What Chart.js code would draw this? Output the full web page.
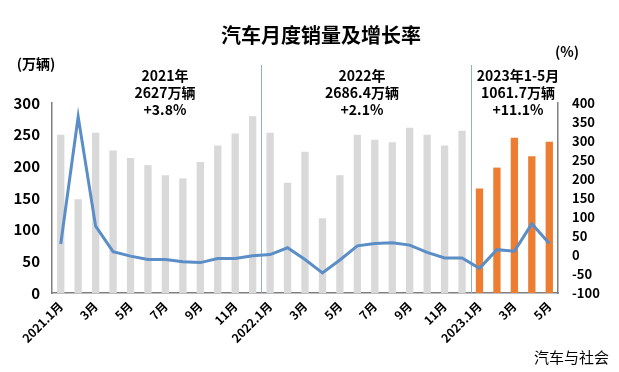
<!DOCTYPE html>
<html><head><meta charset="utf-8">
<script src="https://cdn.jsdelivr.net/npm/chart.js@4.4.0/dist/chart.umd.min.js"></script>
<style>html,body{margin:0;padding:0;background:#fff}#wrap{width:619px;height:372px}</style>
</head><body><div id="wrap"><canvas id="c" width="619" height="372"></canvas></div>
<script>
const categories = ["2021.1月","2月","3月","4月","5月","6月","7月","8月","9月","10月","11月","12月",
  "2022.1月","2月","3月","4月","5月","6月","7月","8月","9月","10月","11月","12月",
  "2023.1月","2月","3月","4月","5月"];
const sales = [250,148,253,225,213,202,186,181,207,233,252,279,
  253,174,223,118,186,250,242,238,261,250,233,256,
  165,198,245,216,239];
const growth = [29,364,76,9,-3,-12,-12,-18,-20,-9,-9,-2,
  1,19,-12,-47,-13,24,30,32,26,7,-8,-8,
  -35,14,10,82,30];
const leftTicks = [0,50,100,150,200,250,300];
const rightTicks = [-100,-50,0,50,100,150,200,250,300,350,400];
const periodNotes = [
  {lines:["2021年","2627万辆","+3.8%"], x:165},
  {lines:["2022年","2686.4万辆","+2.1%"], x:362},
  {lines:["2023年1-5月","1061.7万辆","+11.1%"], x:518}
];
const FONT = '"Noto Sans CJK SC", "Noto Sans", sans-serif';
const barColors = categories.map((c,i)=> i>=24 ? '#ed7d31' : '#d9d9d9');

const overlay = {
  id:'overlay',
  beforeDatasetsDraw(chart){
    const ctx = chart.ctx, x = chart.scales.x, a = chart.chartArea;
    ctx.save();
    ctx.strokeStyle = '#8fb0cf'; ctx.lineWidth = 1;
    [11,23].forEach(i=>{
      const px = Math.round((x.getPixelForValue(i)+x.getPixelForValue(i+1))/2)+0.5;
      ctx.beginPath(); ctx.moveTo(px,65); ctx.lineTo(px,a.bottom); ctx.stroke();
    });
    ctx.restore();
  },
  afterDraw(chart){
    const ctx = chart.ctx;
    ctx.save();
    ctx.fillStyle = '#000';
    ctx.textAlign = 'center'; ctx.textBaseline = 'middle';
    ctx.font = 'bold 20px ' + FONT;
    ctx.fillText('汽车月度销量及增长率', 321, 35);
    ctx.font = 'bold 14px ' + FONT;
    ctx.fillText('(万辆)', 36, 64);
    ctx.fillText('(%)', 567, 52);
    ctx.font = 'bold 14px ' + FONT;
    periodNotes.forEach(n=>{
      n.lines.forEach((t,k)=> ctx.fillText(t, n.x, 76 + k*17));
    });
    ctx.font = '15px ' + FONT;
    ctx.textAlign = 'right';
    ctx.fillText('汽车与社会', 609, 357);
    ctx.restore();
  }
};

new Chart(document.getElementById('c'), {
  data:{
    labels: categories,
    datasets:[
      {type:'line', data:growth, yAxisID:'y2', borderColor:'#5b8ec6', borderWidth:3,
       pointRadius:0, tension:0, order:0},
      {type:'bar', data:sales, yAxisID:'y', backgroundColor:barColors,
       barPercentage:0.42, categoryPercentage:1, order:1}
    ]
  },
  options:{
    responsive:false, animation:false,
    layout:{padding:{top:103,left:0,right:0,bottom:0}},
    plugins:{legend:{display:false}, tooltip:{enabled:false}, title:{display:false}},
    scales:{
      x:{
        grid:{display:false, drawTicks:false},
        border:{color:'#7f7f7f', width:1.5},
        ticks:{autoSkip:false, maxRotation:45, minRotation:45, padding:6, color:'#000',
          font:{family:FONT, size:12, weight:'bold'},
          callback:function(v,i){ return i%2===0 ? categories[i] : ''; }},
        afterFit(s){ s.height = 79; }
      },
      y:{
        position:'left', min:0, max:300,
        grid:{display:false, drawTicks:false},
        border:{color:'#7f7f7f', width:1.5},
        afterBuildTicks(s){ s.ticks = leftTicks.map(v=>({value:v})); },
        ticks:{padding:12, color:'#000', font:{family:FONT, size:15, weight:'bold'}},
        afterFit(s){ s.width = 52; }
      },
      y2:{
        position:'right', min:-100, max:400,
        grid:{display:false, drawTicks:false},
        border:{color:'#7f7f7f', width:1.5},
        afterBuildTicks(s){ s.ticks = rightTicks.map(v=>({value:v})); },
        ticks:{padding:14, color:'#000', font:{family:FONT, size:13, weight:'bold'}},
        afterFit(s){ s.width = 61; }
      }
    }
  },
  plugins:[overlay]
});
</script>
</body></html>
